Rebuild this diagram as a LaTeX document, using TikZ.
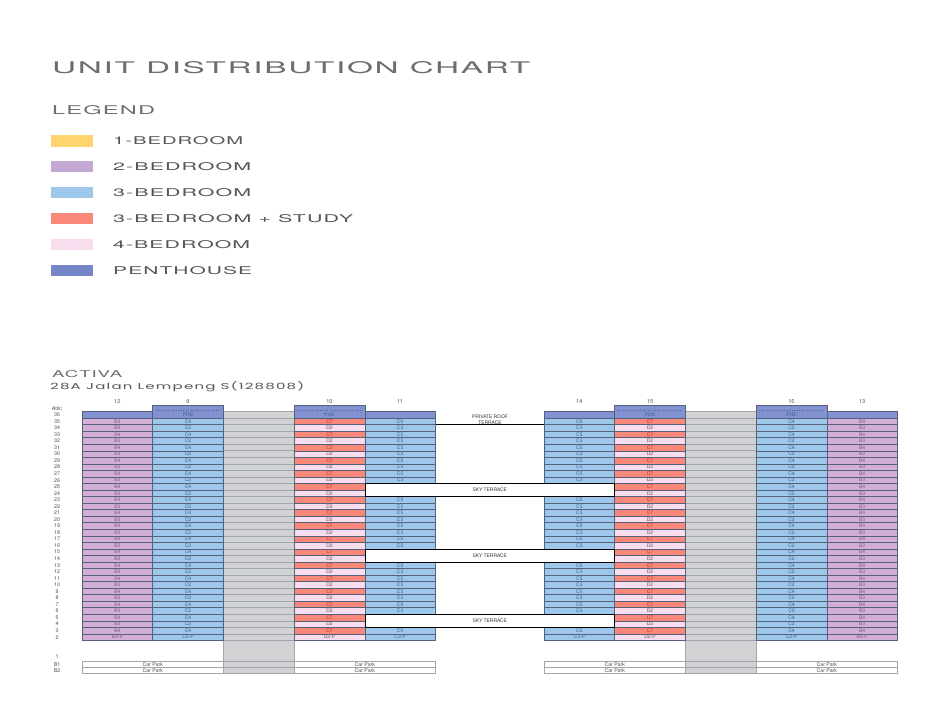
\documentclass[tikz,border=0pt]{standalone}
\usepackage{graphicx}
\usepackage{fontspec}
\setmainfont{TeX Gyre Heros}
\newfontfamily\widefont[LetterSpace=5]{TeX Gyre Heros}
\newfontfamily\addrfont[LetterSpace=8]{Poppins}
\definecolor{ttl}{HTML}{6E6E6E}
\definecolor{lgtxt}{HTML}{555555}
\definecolor{oneb}{HTML}{FDD56E}
\definecolor{twob}{HTML}{D3AED6}
\definecolor{twobl}{HTML}{C3A8D4}
\definecolor{threeb}{HTML}{9DC7EB}
\definecolor{study}{HTML}{F7887A}
\definecolor{fourb}{HTML}{F9DDEE}
\definecolor{pent}{HTML}{8291D2}
\definecolor{pentl}{HTML}{7486C8}
\definecolor{grayc}{HTML}{D0D2D4}
\definecolor{grayl}{HTML}{A2A6AB}
\definecolor{cline}{HTML}{56627A}
\definecolor{btxt}{HTML}{7A5F82}
\definecolor{ctxt}{HTML}{3F628E}
\definecolor{stdtxt}{HTML}{C0302A}
\definecolor{fourtxt}{HTML}{555555}
\definecolor{numtxt}{HTML}{505050}
\tikzset{
  ucell/.style={draw=cline,line width=0.45pt,minimum width=70.7pt,minimum height=6.54pt,
    inner sep=0pt,outer sep=0pt,anchor=north west,font=\fontsize{5}{5}\selectfont},
  pstrip/.style={draw=cline,line width=0.45pt,fill=pent,minimum width=70.7pt,minimum height=6.54pt,
    inner sep=0pt,outer sep=0pt,anchor=north west},
  pbox/.style={draw=cline,line width=0.45pt,fill=pent,minimum width=70.7pt,minimum height=13.04pt,
    inner sep=0pt,outer sep=0pt,anchor=north west},
  ptext/.style={font=\fontsize{5}{5}\selectfont,text=ctxt,inner sep=0pt},
  skybox/.style={draw=black,line width=0.6pt,fill=white,minimum width=249.9pt,minimum height=13.08pt,
    inner sep=0pt,outer sep=0pt,anchor=north west,font=\fontsize{4.9}{4.9}\selectfont,text=black!80},
  cpark/.style={draw=grayl,line width=0.5pt,fill=white,minimum width=141.4pt,minimum height=6.25pt,
    inner sep=0pt,outer sep=0pt,anchor=north west,font=\fontsize{5.2}{5.2}\selectfont,text=numtxt},
  flabel/.style={font=\fontsize{5.3}{5.3}\selectfont,text=numtxt,inner sep=0pt},
  swatch/.style={minimum width=42pt,minimum height=11.5pt,inner sep=0pt,anchor=west},
  lglabel/.style={text=lgtxt,inner sep=0pt,anchor=base west},
}
\newcommand\wtxt[3]{\resizebox{#1}{#2}{\widefont\fontsize{11}{11}\selectfont #3}}
\begin{document}
\begin{tikzpicture}[x=1pt,y=-1pt]
\useasboundingbox (0,0) rectangle (943,717);
\fill[white] (0,0) rectangle (943,717);

% title and legend
\node[text=ttl,inner sep=0pt,anchor=base west] (title) at (52,73.5) {\wtxt{478pt}{12pt}{UNIT DISTRIBUTION CHART}};
\node[text=ttl,inner sep=0pt,anchor=base west] (legend) at (52,114) {\wtxt{103pt}{9pt}{LEGEND}};
\foreach \c/\t/\w [count=\i from 0] in {oneb/1-BEDROOM/130,twobl/2-BEDROOM/138,threeb/3-BEDROOM/138,study/3-BEDROOM + STUDY/240,fourb/4-BEDROOM/137,pentl/PENTHOUSE/139}{
  \pgfmathsetmacro\yy{140.8+\i*25.9}
  \node[swatch,fill=\c] (sw\i) at (51,\yy) {};
  \node[lglabel] (lg\i) at (113,\yy+4) {\wtxt{\w pt}{8pt}{\t}};
}
\node[text=ttl,inner sep=0pt,anchor=base west] (activa) at (52,377) {\wtxt{70pt}{7pt}{ACTIVA}};
\node[text=lgtxt,inner sep=0pt,anchor=base west] (addr) at (50,389.5) {\resizebox{254pt}{8pt}{\addrfont\fontsize{10}{10}\selectfont 28A Jalan Lempeng S(128808)}};

% gray core columns
\foreach \gx/\gn in {223.4/ga,685.4/gb}{
  \fill[grayc] (\gx,411.5) rectangle (\gx+70.7,673.5);
  \foreach \k in {0,...,35} \draw[grayl,line width=0.5pt] (\gx,{411.5+\k*6.54}) -- (\gx+70.7,{411.5+\k*6.54});
  \draw[grayl,line width=0.5pt] (\gx,411.5) -- (\gx,673.5) (\gx+70.7,411.5) -- (\gx+70.7,673.5);
}

% column headers
\foreach \n/\x in {12/117.35,9/188.05,10/329.45,11/400.15,14/579.35,15/650.05,16/791.45,13/862.15}
  \node[flabel,font=\fontsize{5.6}{5.6}\selectfont] (h\n) at (\x,402) {\n};

% floor labels
\node[flabel] (fattic) at (57,408.6) {Attic};
\foreach \r in {36,...,2}{
  \pgfmathsetmacro\yy{411.5+(36-\r)*6.54+3.27}
  \node[flabel] (f\r) at (57,\yy) {\r};
}
\node[flabel] (f1) at (57,657) {1};
\node[flabel] (fb1) at (57,664.1) {B1};
\node[flabel] (fb2) at (57,670.4) {B2};

% row 36 penthouse
\foreach \x/\n in {82/12,364.8/11,544/14,826.8/13}
  \node[pstrip] (p\n) at (\x,411.5) {};
\foreach \x/\n/\t in {152.7/9/PHE,294.1/10/PHD,614.7/15/PHD,756.1/16/PHE}{
  \node[pbox] (pb\n) at (\x,405) {};
  \draw[cline,line width=0.5pt,dotted] ([xshift=3pt,yshift=-5.4pt]pb\n.north west) -- ([xshift=-3pt,yshift=-5.4pt]pb\n.north east);
  \node[ptext] (pt\n) at ([yshift=3.4pt]pb\n.south) {\t};
}

% unit rows 35..3
\foreach \r in {35,...,3}{
  \pgfmathsetmacro\yy{411.5+(36-\r)*6.54}
  \ifodd\r
    \def\tb{B4}\def\tc{C4}\def\tcc{C5}\def\td{C7}\def\dfill{study}\def\dtext{stdtxt}%
  \else
    \def\tb{B3}\def\tc{C2}\def\tcc{C3}\def\td{D2}\def\dfill{fourb}\def\dtext{fourtxt}%
  \fi
  \ifnum\r=35 \def\tcc{C6}\fi
  \node[ucell,fill=twob,text=btxt] (u12r\r) at (82,\yy) {\tb};
  \node[ucell,fill=threeb,text=ctxt] (u9r\r) at (152.7,\yy) {\tc};
  \node[ucell,fill=\dfill,text=\dtext] (u10r\r) at (294.1,\yy) {\td};
  \node[ucell,fill=threeb,text=ctxt] (u11r\r) at (364.8,\yy) {\tcc};
  \node[ucell,fill=threeb,text=ctxt] (u14r\r) at (544,\yy) {\tcc};
  \node[ucell,fill=\dfill,text=\dtext] (u15r\r) at (614.7,\yy) {\td};
  \node[ucell,fill=threeb,text=ctxt] (u16r\r) at (756.1,\yy) {\tc};
  \node[ucell,fill=twob,text=btxt] (u13r\r) at (826.8,\yy) {\tb};
}
% row 2
\node[ucell,fill=twob,text=btxt] (u12r2) at (82,633.86) {B3-P};
\node[ucell,fill=threeb,text=ctxt] (u9r2) at (152.7,633.86) {C2-P};
\node[ucell,fill=fourb,text=fourtxt] (u10r2) at (294.1,633.86) {D2-P};
\node[ucell,fill=threeb,text=ctxt] (u11r2) at (364.8,633.86) {C3-P};
\node[ucell,fill=threeb,text=ctxt] (u14r2) at (544,633.86) {C3-P};
\node[ucell,fill=fourb,text=fourtxt] (u15r2) at (614.7,633.86) {D2-P};
\node[ucell,fill=threeb,text=ctxt] (u16r2) at (756.1,633.86) {C2-P};
\node[ucell,fill=twob,text=btxt] (u13r2) at (826.8,633.86) {B3-P};

% private roof terrace
\node[font=\fontsize{4.9}{5.6}\selectfont,text=black!80,align=center,inner sep=0pt] (roof) at (490,419.6) {PRIVATE ROOF\\TERRACE};
\draw[black,line width=0.6pt] (u11r35.south east) -- (u14r35.south west);

% sky terraces
\node[skybox] (sky1) at (364.8,483.44) {SKY TERRACE};
\node[skybox] (sky2) at (364.8,548.84) {SKY TERRACE};
\node[skybox] (sky3) at (364.8,614.24) {SKY TERRACE};

% car park
\foreach \x/\n in {82/a,294.1/b,544/c,756.1/d}{
  \node[cpark] (cp1\n) at (\x,661) {Car Park};
  \node[cpark] (cp2\n) at (\x,667.25) {Car Park};
}
\draw[grayl,line width=0.5pt] (cp1a.north east) -- (cp1b.north west) (cp2a.north east) -- (cp2b.north west) (cp2a.south east) -- (cp2b.south west);
\draw[grayl,line width=0.5pt] (cp1c.north east) -- (cp1d.north west) (cp2c.north east) -- (cp2d.north west) (cp2c.south east) -- (cp2d.south west);
\end{tikzpicture}
\end{document}
